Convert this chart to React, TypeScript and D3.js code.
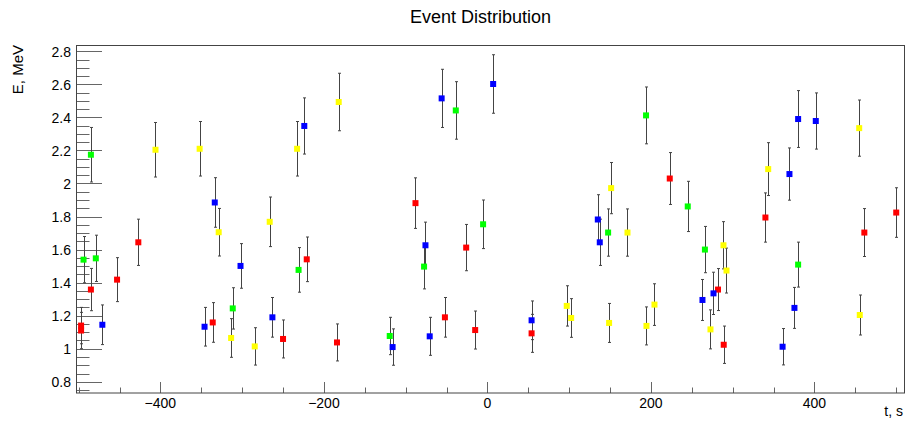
import React from "react";
import * as d3 from "d3";

const redT = [-497, -497, -485, -453, -427, -336, -250, -221, -184, -88, -52, -26, -15, 54, 223, 282, 289, 340, 461, 500];
const redE = [1.14, 1.11, 1.358, 1.418, 1.644, 1.159, 1.059, 1.541, 1.038, 1.881, 1.19, 1.612, 1.113, 1.093, 2.03, 1.358, 1.024, 1.794, 1.703, 1.824];
const redErr = [0.11, 0.11, 0.128, 0.133, 0.14, 0.12, 0.115, 0.135, 0.112, 0.153, 0.12, 0.14, 0.115, 0.115, 0.157, 0.127, 0.113, 0.149, 0.145, 0.15];

const greenT = [-494, -485, -479, -311.5, -231, -119.5, -77.5, -38.7, -5.3, 147.6, 194, 245, 266, 380];
const greenE = [1.539, 2.174, 1.547, 1.244, 1.477, 1.077, 1.497, 2.442, 1.753, 1.703, 2.412, 1.861, 1.6, 1.509];
const greenErr = [0.14, 0.165, 0.14, 0.125, 0.135, 0.113, 0.135, 0.174, 0.147, 0.143, 0.172, 0.152, 0.14, 0.136];

const blueT = [-471, -346, -333.5, -302, -263, -224, -116, -75.8, -70.6, -56, 7, 54, 135, 137.4, 263, 276.5, 361, 369.4, 375.5, 380, 401.6];
const blueE = [1.145, 1.133, 1.885, 1.501, 1.19, 2.348, 1.01, 1.626, 1.075, 2.515, 2.602, 1.172, 1.782, 1.644, 1.295, 1.335, 1.012, 2.057, 1.247, 2.39, 2.378];
const blueErr = [0.12, 0.117, 0.15, 0.135, 0.12, 0.17, 0.11, 0.14, 0.115, 0.176, 0.177, 0.117, 0.15, 0.14, 0.124, 0.128, 0.11, 0.158, 0.124, 0.172, 0.17];

const yellowT = [-406, -352, -328.7, -313.5, -284.6, -266.3, -232.8, -181.9, 97, 102.4, 148.8, 151.3, 171.3, 194.5, 204.3, 272.8, 288.7, 292.4, 343.4, 454.7, 455.4];
const yellowE = [2.204, 2.21, 1.705, 1.065, 1.014, 1.768, 2.21, 2.493, 1.259, 1.186, 1.156, 1.972, 1.703, 1.138, 1.267, 1.117, 1.626, 1.473, 2.087, 2.335, 1.204];
const yellowErr = [0.165, 0.165, 0.144, 0.117, 0.113, 0.15, 0.165, 0.174, 0.122, 0.117, 0.118, 0.155, 0.143, 0.115, 0.126, 0.118, 0.143, 0.136, 0.16, 0.17, 0.121];

const xMajorTicks = [-400, -200, 0, 200, 400];
const xTickLabels = ["\u2212400", "\u2212200", "0", "200", "400"];
const xMinorTicks = [-500, -450, -350, -300, -250, -150, -100, -50, 50, 100, 150, 250, 300, 350, 450, 500];
const yMajorTicks = [0.8, 1.0, 1.2, 1.4, 1.6, 1.8, 2.0, 2.2, 2.4, 2.6, 2.8];
const yTickLabels = ["0.8", "1", "1.2", "1.4", "1.6", "1.8", "2", "2.2", "2.4", "2.6", "2.8"];
const yMinorTicks = [0.75, 0.85, 0.9, 0.95, 1.05, 1.1, 1.15, 1.25, 1.3, 1.35, 1.45, 1.5, 1.55, 1.65, 1.7, 1.75, 1.85, 1.9, 1.95, 2.05, 2.1, 2.15, 2.25, 2.3, 2.35, 2.45, 2.5, 2.55, 2.65, 2.7, 2.75];

const W = 906, H = 427;
const L = 77, R = 904, T = 45, B = 393;
const FONT = "'Liberation Sans', Arial, Helvetica, sans-serif";

export default function App() {
  const x = d3.scaleLinear().domain([-502, 509.5]).range([L, R]);
  const y = d3.scaleLinear().domain([0.732, 2.838]).range([B, T]);

  const series = [
    { t: redT, e: redE, err: redErr, color: "#ff0000" },
    { t: greenT, e: greenE, err: greenErr, color: "#00ff00" },
    { t: blueT, e: blueE, err: blueErr, color: "#0000ff" },
    { t: yellowT, e: yellowE, err: yellowErr, color: "#ffff00" },
  ];

  const tickColor = "#666";
  const ms = 6;

  return (
    <svg width={W} height={H} style={{ position: "absolute", left: 0, top: 0, background: "#fff" }} fontFamily={FONT}>
      <rect x={0} y={0} width={W} height={H} fill="#fff" />
      <text x={480.5} y={23} textAnchor="middle" fontSize={18} fill="#000">Event Distribution</text>

      {/* y ticks */}
      {yMajorTicks.map((v, i) => (
        <line key={"ym" + i} x1={L} x2={L + 25} y1={Math.round(y(v)) + 0.5} y2={Math.round(y(v)) + 0.5} stroke={tickColor} strokeWidth={1} />
      ))}
      {yMinorTicks.map((v, i) => (
        <line key={"yn" + i} x1={L} x2={L + 12.5} y1={Math.round(y(v)) + 0.5} y2={Math.round(y(v)) + 0.5} stroke={tickColor} strokeWidth={1} />
      ))}
      {yMajorTicks.map((v, i) => (
        <text key={"yl" + i} x={71} y={y(v) + 5.5} textAnchor="end" fontSize={14} fill="#000">{yTickLabels[i]}</text>
      ))}

      {/* x ticks */}
      {xMajorTicks.map((v, i) => (
        <line key={"xm" + i} x1={Math.round(x(v)) + 0.5} x2={Math.round(x(v)) + 0.5} y1={B} y2={B - 11} stroke={tickColor} strokeWidth={1} />
      ))}
      {xMinorTicks.map((v, i) => (
        <line key={"xn" + i} x1={Math.round(x(v)) + 0.5} x2={Math.round(x(v)) + 0.5} y1={B} y2={B - 5.5} stroke={tickColor} strokeWidth={1} />
      ))}
      {xMajorTicks.map((v, i) => (
        <text key={"xl" + i} x={x(v)} y={408} textAnchor="middle" fontSize={14} fill="#000">{xTickLabels[i]}</text>
      ))}

      {/* frame */}
      <rect x={L - 0.5} y={T + 0.5} width={R - L + 1} height={B - T - 0.5} fill="none" stroke="#444" strokeWidth={1} />

      {/* error bars */}
      {series.map((s, si) => (
        <g key={"err" + si} stroke="#444" strokeWidth={1}>
          {s.t.map((tv, i) => {
            const cx = Math.round(x(tv)) + 0.5;
            const y1 = y(s.e[i] + s.err[i]);
            const y2 = y(s.e[i] - s.err[i]);
            return (
              <g key={i}>
                <line x1={cx} x2={cx} y1={y1} y2={y2} />
                <line x1={cx - 1.5} x2={cx + 1.5} y1={y1} y2={y1} />
                <line x1={cx - 1.5} x2={cx + 1.5} y1={y2} y2={y2} />
              </g>
            );
          })}
        </g>
      ))}

      {/* markers */}
      {series.map((s, si) => (
        <g key={"mk" + si} fill={s.color}>
          {s.t.map((tv, i) => (
            <rect key={i} x={x(tv) - ms / 2} y={y(s.e[i]) - ms / 2} width={ms} height={ms} />
          ))}
        </g>
      ))}

      {/* axis titles */}
      <text x={903} y={416} textAnchor="end" fontSize={14} fill="#000">t, s</text>
      <text transform="translate(23,45) rotate(-90)" textAnchor="end" fontSize={15} fill="#000">E, MeV</text>
    </svg>
  );
}
